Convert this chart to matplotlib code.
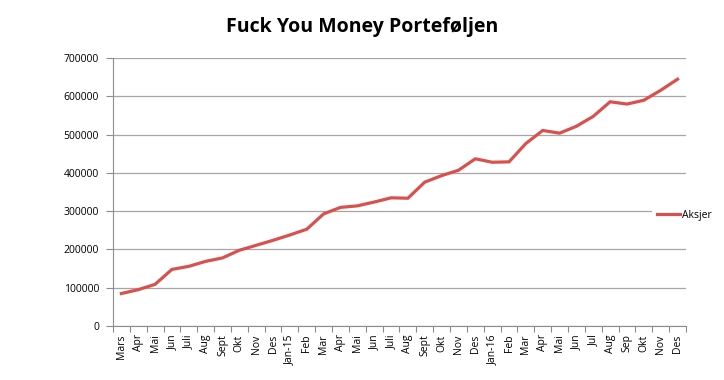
import numpy as np
import matplotlib.pyplot as plt

plt.rcParams['font.family'] = ['Open Sans', 'DejaVu Sans']

months = ["Mars", "Apr", "Mai", "Jun", "Juli", "Aug", "Sept", "Okt", "Nov", "Des",
          "Jan-15", "Feb", "Mar", "Apr", "Mai", "Jun", "Juli", "Aug", "Sept", "Okt",
          "Nov", "Des", "Jan-16", "Feb", "Mar", "Apr", "Mai", "Jun", "Jul", "Aug",
          "Sep", "Okt", "Nov", "Des"]
aksjer = [85000, 95000, 109000, 148000, 156000, 169000, 178000, 198000, 211000, 224000,
          238000, 253000, 293000, 310000, 314000, 324000, 335000, 334000, 376000, 393000,
          407000, 437000, 428000, 429000, 477000, 511000, 504000, 522000, 548000, 586000,
          580000, 590000, 616000, 645000]

fig = plt.figure(figsize=(7.24, 3.80), dpi=100)
ax = fig.add_axes([0.156, 0.142, 0.7915, 0.705])

x = np.arange(len(months))
ax.plot(x, aksjer, color='#D9514E', lw=2.3, label='Aksjer', solid_joinstyle='miter', zorder=3)

ax.set_xlim(-0.5, len(months) - 0.5)
ax.set_ylim(0, 700000)
ax.set_yticks(np.arange(0, 700001, 100000))
ax.set_yticklabels([str(v) for v in range(0, 700001, 100000)], fontsize=7.5)
ax.yaxis.grid(True, color='#A6A6A6', lw=0.9)
ax.set_axisbelow(True)

ax.set_xticks(x)
ax.set_xticklabels(months, rotation=90, fontsize=7.5)
ax.set_xticks(np.arange(-0.5, len(months)), minor=True)
ax.tick_params(axis='x', which='major', length=0, pad=6)
ax.tick_params(axis='x', which='minor', length=4, color='#8C8C8C', width=0.8)
ax.tick_params(axis='y', length=5, color='#8C8C8C', width=0.8, pad=5)

for s in ['top', 'right']:
    ax.spines[s].set_visible(False)
for s in ['left', 'bottom']:
    ax.spines[s].set_color('#8C8C8C')
    ax.spines[s].set_linewidth(0.8)

fig.text(0.5, 0.93, "Fuck You Money Porteføljen", ha='center', va='center',
         fontsize=14, fontweight='bold')

leg = ax.legend(loc='center left', bbox_to_anchor=(0.893, 0.434),
                bbox_transform=fig.transFigure, frameon=True, fontsize=7.5,
                handlelength=2.2, handletextpad=0.2, borderpad=0.5)
leg.get_frame().set_facecolor('white')
leg.get_frame().set_edgecolor('none')
leg.get_frame().set_alpha(1)

fig.savefig('out.png', dpi=100)
